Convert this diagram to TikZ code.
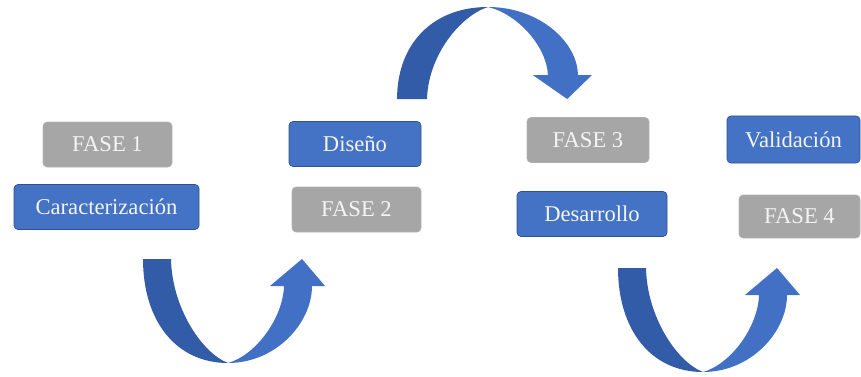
\documentclass[tikz,border=0pt]{standalone}
\usepackage{fontspec}
\setmainfont{Liberation Serif}
\definecolor{phasegray}{HTML}{A6A6A6}
\definecolor{stepblue}{HTML}{4472C4}
\definecolor{stepedge}{HTML}{2F528F}
\definecolor{arrowdark}{HTML}{335CA8}
\definecolor{arrowlight}{HTML}{4270C4}
\definecolor{boxtext}{HTML}{F4F4F4}

\begin{document}
\begin{tikzpicture}[
    x=1pt, y=-1pt,
    box/.style={rectangle, rounded corners=4pt, inner sep=0pt, text=boxtext,
                font=\fontsize{22.6}{26}\selectfont, minimum height=45pt},
    phase/.style={box, fill=phasegray, draw=phasegray!85!white, line width=0.6pt},
    task/.style={box, fill=stepblue, draw=stepedge, line width=0.7pt},
    uarrow/.pic={
      % darker back half
      \fill[arrowdark] (-85,-104) .. controls (-85,-42) and (-52,0) .. (0,0)
          .. controls (-26,-10) and (-56,-55) .. (-57,-104) -- cycle;
      % lighter front half with head
      \fill[arrowlight] (0,0) .. controls (48,0) and (84,-40) .. (84,-77)
          -- (97,-77) -- (74,-104) -- (42,-77) -- (56,-77)
          .. controls (55,-45) and (28,-8) .. (0,0) -- cycle;
    }
]
\useasboundingbox (0,0) rectangle (861,377);

% Phase labels and tasks
\node[phase, minimum width=129pt] (f1) at (107.5,144.5) {FASE 1};
\node[task, minimum width=185pt] (car) at (106.5,207) {Caracterización};
\node[task, minimum width=132pt] (dis) at (355,144) {Diseño};
\node[phase, minimum width=129pt] (f2) at (356.5,209.5) {FASE 2};
\node[phase, minimum width=122pt] (f3) at (588,140) {FASE 3};
\node[task, minimum width=150pt] (des) at (592,214) {Desarrollo};
\node[task, minimum width=133pt, minimum height=47pt] (val) at (793.5,139.5) {Validación};
\node[phase, minimum width=121pt, minimum height=43pt] (f4) at (799.5,216.5) {FASE 4};

% Curved arrows between phases
\pic at (228,363) {uarrow};
\pic[xscale=1.07, yscale=-0.885] at (488,7) {uarrow};
\pic at (703,372) {uarrow};

\end{tikzpicture}
\end{document}
